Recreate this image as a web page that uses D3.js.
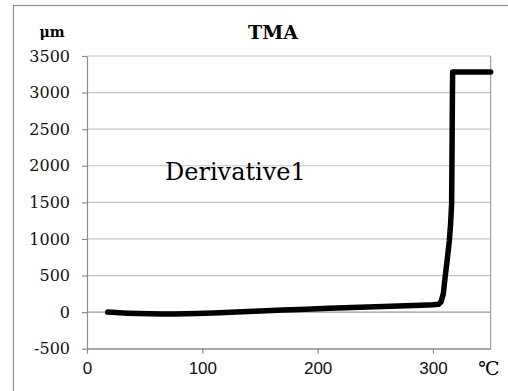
<!DOCTYPE html>
<html>
<head>
<meta charset="utf-8">
<script src="https://cdn.jsdelivr.net/npm/d3@7"></script>
<style>
  body { margin: 0; background: #fff; }
  svg { display: block; }
</style>
</head>
<body>
<div id="chart"></div>
<script>
// TMA curve
var temp = [18, 25, 35, 45, 55, 65, 75, 85, 95, 110, 130, 150, 170, 190, 210, 230, 250, 270, 290, 300, 305,
            307, 309, 310.5, 312.5, 314.2, 315.3, 316.2, 316.6, 316.9, 317.1, 330, 350];
var disp = [0, -6, -14, -20, -24, -26, -26, -24, -20, -12, 0, 14, 28, 40, 52, 62, 72, 82, 94, 100, 108,
            140, 250, 470, 730, 975, 1200, 1480, 2300, 3000, 3280, 3280, 3280];
var xTicks = [0, 100, 200, 300];
var yTicks = [-500, 0, 500, 1000, 1500, 2000, 2500, 3000, 3500];

var W = 508, H = 391;
var margin = {top: 56, right: 17.4, bottom: 42.3, left: 87},
    width = W - margin.left - margin.right,
    height = H - margin.top - margin.bottom;

var serif = "'DejaVu Serif', 'Liberation Serif', serif";

var svg = d3.select("#chart")
  .append("svg")
    .attr("width", W)
    .attr("height", H);

// outer frame of the chart area
svg.append("rect")
    .attr("x", 13.5).attr("y", 5.5)
    .attr("width", 520).attr("height", 400)
    .attr("fill", "none")
    .attr("stroke", "#8c8c8c")
    .attr("stroke-width", 1.2);

var g = svg.append("g")
    .attr("transform", "translate(" + margin.left + "," + margin.top + ")");

var x = d3.scaleLinear().domain([0, 350]).range([0, width]);
var y = d3.scaleLinear().domain([-500, 3500]).range([height, 0]);

// gridlines
g.selectAll(".grid")
  .data(yTicks)
  .enter()
  .append("line")
    .attr("x1", 0).attr("x2", width)
    .attr("y1", function (d) { return y(d); })
    .attr("y2", function (d) { return y(d); })
    .attr("stroke", function (d) { return d === 0 ? "#9a9a9a" : "#c4c4c4"; })
    .attr("stroke-width", 1.2);

// right border of plot
g.append("line")
    .attr("x1", width).attr("x2", width)
    .attr("y1", 0).attr("y2", height)
    .attr("stroke", "#a0a0a0").attr("stroke-width", 1.2);

// y axis
var yAxis = g.append("g")
    .call(d3.axisLeft(y).tickValues(yTicks).tickFormat(function (d) { return String(d); })
      .tickSize(5).tickSizeOuter(0).tickPadding(12));
yAxis.select(".domain").attr("stroke", "#8c8c8c").attr("stroke-width", 1.2);
yAxis.selectAll(".tick line").attr("stroke", "#8c8c8c").attr("stroke-width", 1.2);
yAxis.selectAll("text")
    .style("font-family", serif)
    .style("font-size", "16px")
    .attr("fill", "#111");

// x axis
var xAxis = g.append("g")
    .attr("transform", "translate(0," + height + ")")
    .call(d3.axisBottom(x).tickValues(xTicks).tickFormat(function (d) { return String(d); })
      .tickSize(5).tickSizeOuter(0).tickPadding(8));
xAxis.select(".domain").attr("stroke", "#8c8c8c").attr("stroke-width", 1.2);
xAxis.selectAll(".tick line").attr("stroke", "#8c8c8c").attr("stroke-width", 1.2);
xAxis.selectAll("text")
    .style("font-family", "'Liberation Sans', Arial, sans-serif")
    .style("font-size", "17px")
    .attr("fill", "#111");

// curve
var line = d3.line()
    .x(function (d, i) { return x(temp[i]); })
    .y(function (d) { return y(d); });

g.append("path")
    .datum(disp)
    .attr("d", line)
    .attr("fill", "none")
    .attr("stroke", "#000")
    .attr("stroke-width", 5.5)
    .attr("stroke-linejoin", "round")
    .attr("stroke-linecap", "round");

// texts
svg.append("text")
    .attr("x", 273).attr("y", 38.5)
    .attr("text-anchor", "middle")
    .style("font-family", serif)
    .style("font-weight", "bold")
    .style("font-size", "19px")
    .text("TMA");

svg.append("text")
    .attr("x", 52).attr("y", 37)
    .attr("text-anchor", "middle")
    .style("font-family", serif)
    .style("font-weight", "bold")
    .style("font-size", "14px")
    .text("μm");

svg.append("text")
    .attr("x", 165).attr("y", 179.5)
    .style("font-family", serif)
    .style("font-size", "24px")
    .text("Derivative1");

svg.append("text")
    .attr("x", 489).attr("y", 375)
    .attr("text-anchor", "middle")
    .style("font-family", "'Liberation Serif', 'DejaVu Serif', serif")
    .style("font-size", "19px")
    .text("℃");
</script>
</body>
</html>
